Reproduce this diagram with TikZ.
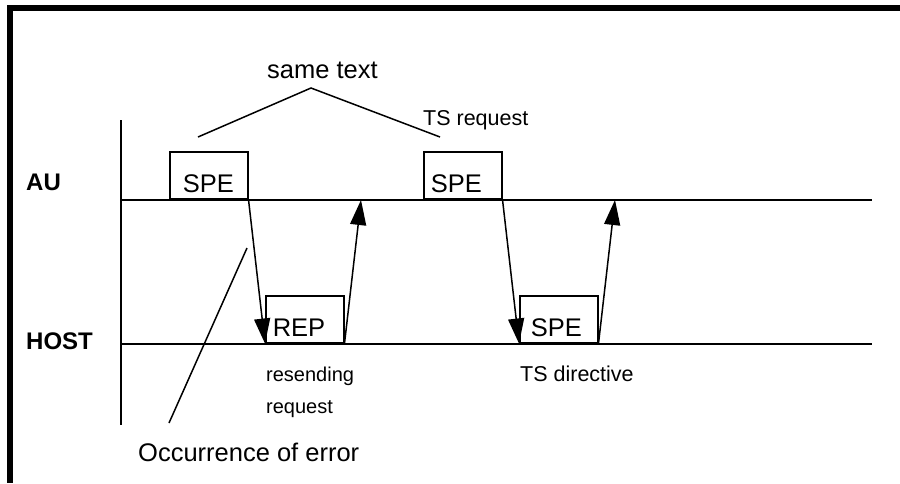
\documentclass[tikz,border=0pt]{standalone}
\usepackage{fontspec}
\setmainfont{Liberation Sans}
\usetikzlibrary{arrows.meta}
\tikzset{
  ln/.style={line width=1.5pt, line cap=butt},
  arr/.style={line width=1.5pt, -{Triangle[length=25pt,width=16pt]}},
  box/.style={draw, line width=1.5pt, inner sep=0pt, text width=78pt, minimum height=47pt,
     text height=41pt, text depth=6pt, align=left, font=\fontsize{25.5}{25.5}\selectfont},
  txt/.style={inner sep=0pt, anchor=base west},
  big/.style={txt, font=\fontsize{25.5}{25.5}\selectfont},
  small/.style={txt, font=\fontsize{21.5}{21.5}\selectfont},
  lbl/.style={txt, font=\bfseries\fontsize{24}{24}\selectfont},
}
\begin{document}
\begin{tikzpicture}[x=1pt,y=-1pt]
\useasboundingbox (0,0) rectangle (900,483);
% frame
\draw[line width=6pt, line join=miter] (900,8) -- (9.5,8) -- (9.5,483);
% lanes
\coordinate (axT) at (121,120);
\coordinate (axB) at (121,425);
\coordinate (auL) at (121,200);
\coordinate (auR) at (872,200);
\coordinate (hoL) at (121,344);
\coordinate (hoR) at (872,344);
\draw[ln] (axT) -- (axB);
\draw[ln] (auL) -- (auR);
\draw[ln] (hoL) -- (hoR);
\node[lbl] (au) at (26,190) {AU};
\node[lbl] (host) at (26,349) {HOST};
% boxes
\node[box, anchor=south west] (s1) at (169,199.5) {\hspace*{13pt}SPE};
\node[box, anchor=south west] (s2) at (423,199.5) {\hspace*{7pt}SPE};
\node[box, anchor=south west] (rep) at (265,343.5) {\hspace*{7pt}REP};
\node[box, anchor=south west] (s3) at (519,343.5) {\hspace*{11pt}SPE};
% arrows
\coordinate (a2) at (361,200);
\coordinate (a4) at (615,200);
\draw[arr] (s1.south east) -- (rep.south west);
\draw[arr] (rep.south east) -- (a2);
\draw[arr] (s2.south east) -- (s3.south west);
\draw[arr] (s3.south east) -- (a4);
% same text
\coordinate (pL) at (198,137);
\coordinate (pT) at (311,88);
\coordinate (pR) at (440,137);
\draw[ln] (pL) -- (pT) -- (pR);
\node[big] (same) at (267,78) {same text};
\node[small] (tsreq) at (423,125) {TS request};
\node[small, font=\fontsize{20}{20}\selectfont] (resend) at (266,381) {resending};
\node[small, font=\fontsize{20}{20}\selectfont] (resreq) at (266,413) {request};
\node[small] (tsdir) at (520,381.5) {TS directive};
% error
\coordinate (eT) at (247,248);
\coordinate (eB) at (169,423);
\draw[ln] (eT) -- (eB);
\node[big] (err) at (138,461.5) {Occurrence of error};
\end{tikzpicture}
\end{document}
